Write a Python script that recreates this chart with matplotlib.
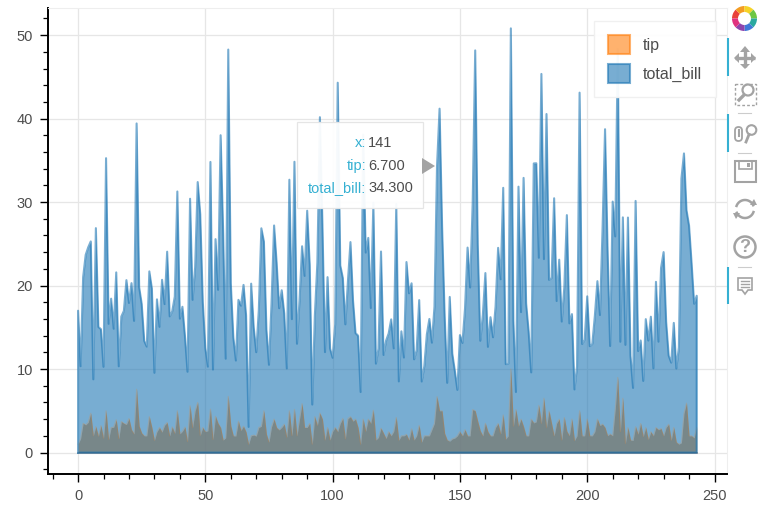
import numpy as np
import matplotlib
matplotlib.use('Agg')
import matplotlib.pyplot as plt
from matplotlib.patches import Patch, Rectangle, Circle, Wedge, Polygon, FancyBboxPatch

plt.rcParams['font.family'] = ['Liberation Sans', 'DejaVu Sans']

# data
total_bill = [16.99,10.34,21.01,23.68,24.59,25.29,8.77,26.88,15.04,14.78,10.27,35.26,15.42,18.43,14.83,21.58,10.33,16.29,16.97,20.65,
    17.92,20.29,15.77,39.42,19.82,17.81,13.37,12.69,21.70,19.65,9.55,18.35,15.06,20.69,17.78,24.06,16.31,16.93,18.69,31.27,
    16.04,17.46,13.94,9.68,30.40,18.29,22.23,32.40,28.55,18.04,12.54,10.29,34.81,9.94,25.56,19.49,38.01,26.41,11.24,48.27,
    20.29,13.81,11.02,18.29,17.59,20.08,16.45,3.07,20.23,15.01,12.02,17.07,26.86,25.28,14.73,10.51,17.92,27.20,22.76,17.29,
    19.44,16.66,10.07,32.68,15.98,34.83,13.03,18.28,24.71,21.16,28.97,22.49,5.75,16.32,22.75,40.17,27.28,12.03,21.01,12.46,
    11.35,15.38,44.30,22.42,20.92,15.36,20.49,25.21,18.24,14.31,14.00,7.25,38.07,23.95,25.71,17.31,29.93,10.65,12.43,24.08,
    11.69,13.42,14.26,15.95,12.48,29.80,8.52,14.52,11.38,22.82,19.08,20.27,11.17,12.26,18.26,8.51,10.33,14.15,16.00,13.16,
    17.47,34.30,41.19,27.05,16.43,8.35,18.64,11.87,9.78,7.51,14.07,13.13,17.26,24.55,19.77,29.85,48.17,25.00,13.39,16.49,
    21.50,12.66,16.21,13.81,17.51,24.52,20.76,31.71,10.59,10.63,50.81,15.81,7.25,31.85,16.82,32.90,17.89,14.48,9.60,34.63,
    34.65,23.33,45.35,23.17,40.55,20.69,20.90,30.46,18.15,23.10,15.69,19.81,28.44,15.48,16.58,7.56,10.34,43.11,13.00,13.51,
    18.71,12.74,13.00,16.40,20.53,16.47,26.59,38.73,24.27,12.76,30.06,25.89,48.33,13.27,28.17,12.90,28.15,11.59,7.74,30.14,
    12.16,13.42,8.58,15.98,13.42,16.27,10.09,20.45,13.28,22.12,24.01,15.69,11.61,10.77,15.53,10.07,12.60,32.83,35.83,29.03,
    27.18,22.67,17.82,18.78]
tip = [1.01,1.66,3.50,3.31,3.61,4.71,2.00,3.12,1.96,3.23,1.71,5.00,1.57,3.00,3.02,3.92,1.67,3.71,3.50,3.35,
    4.08,2.75,2.23,7.58,3.18,2.34,2.00,2.00,4.30,3.00,1.45,2.50,3.00,2.45,3.27,3.60,2.00,3.07,2.31,5.00,
    2.24,2.54,3.06,1.32,5.60,3.00,5.00,6.00,2.05,3.00,2.50,2.60,5.20,1.56,4.34,3.51,3.00,1.50,1.76,6.73,
    3.21,2.00,1.98,3.76,2.64,3.15,2.47,1.00,2.01,2.09,1.97,3.00,3.14,5.00,2.20,1.25,3.08,4.00,3.00,2.71,
    3.00,3.40,1.83,5.00,2.03,5.17,2.00,4.00,5.85,3.00,3.00,3.50,1.00,4.30,3.25,4.73,4.00,1.50,3.00,1.50,
    2.50,3.00,2.50,3.48,4.08,1.64,4.06,4.29,3.76,4.00,3.00,1.00,4.00,2.55,4.00,3.50,5.07,1.50,1.80,2.92,
    2.31,1.68,2.50,2.00,2.52,4.20,1.48,2.00,2.00,2.18,1.50,2.83,1.50,2.00,3.25,1.25,2.00,2.00,2.00,2.75,
    3.50,6.70,5.00,5.00,2.30,1.50,1.36,1.63,1.73,2.00,2.50,2.00,2.74,2.00,2.00,5.14,5.00,3.75,2.61,2.00,
    3.50,2.50,2.00,2.00,3.00,3.48,2.24,4.50,1.61,2.00,10.00,3.16,5.15,3.18,4.00,3.11,2.00,2.00,4.00,3.55,
    3.68,5.65,3.50,6.50,3.00,5.00,3.50,2.00,3.50,4.00,1.50,4.19,2.56,2.02,4.00,1.44,2.00,5.00,2.00,2.00,
    4.00,2.01,2.00,2.50,4.00,3.23,3.41,3.00,2.03,2.23,2.00,5.16,9.00,2.50,6.50,1.10,3.00,1.50,1.44,3.09,
    2.20,3.48,1.92,3.00,1.58,2.50,2.00,3.00,2.72,2.88,2.00,3.00,3.39,1.47,3.00,1.25,1.00,1.17,4.67,5.92,
    2.00,2.00,1.75,3.00]
x = np.arange(len(total_bill))

x_ticks = [0, 50, 100, 150, 200, 250]
y_ticks = [0, 10, 20, 30, 40, 50]
hover_x = 141

blue = '#1f77b4'
orange = '#ff7f0e'
grid_col = '#e6e6e6'
text_col = '#4d4d4d'
cyan = '#35b0d2'
icon = '#a3a3a3'

W, H = 781, 511
fig = plt.figure(figsize=(W / 100, H / 100), dpi=100)
ax = fig.add_axes([47.5 / W, (H - 474) / H, (727 - 47.5) / W, (474 - 8) / H])

# the two areas, tip below total_bill
ax.fill_between(x, 0, tip, color=orange, alpha=0.75, lw=0)
ax.plot(x, tip, color=orange, alpha=0.2, lw=0.8)
ax.plot([x[0], x[-1]], [0, 0], color='#2a3f55', alpha=0.6, lw=1.2)
ax.fill_between(x, 0, total_bill, color=blue, alpha=0.6, lw=0)
ax.plot(np.r_[x[0], x, x[-1], x[0]], np.r_[0, total_bill, 0, 0], color=blue, alpha=0.6, lw=1.5)

ax.set_xlim(-12, 254.9)
ax.set_ylim(-2.57, 53.25)
ax.set_xticks(x_ticks)
ax.set_yticks(y_ticks)
ax.set_xticks(np.arange(-10, 255, 10), minor=True)
ax.set_yticks(np.arange(-2, 53, 2), minor=True)
ax.grid(True, which='major', color=grid_col, lw=0.9)
ax.set_axisbelow(True)
ax.tick_params(which='major', direction='out', length=6, width=1, labelsize=10.5, labelcolor=text_col, pad=4.5)
ax.tick_params(which='minor', direction='out', length=3.8, width=0.9)
for s in ['top', 'right']:
    ax.spines[s].set_color('#eeeeee')
for s in ['left', 'bottom']:
    ax.spines[s].set_linewidth(1.4)

handles = [Patch(facecolor=orange, edgecolor=orange, alpha=0.6, lw=1.5, label='tip'),
           Patch(facecolor=blue, edgecolor=blue, alpha=0.6, lw=1.5, label='total_bill')]
leg = ax.legend(handles=handles, loc='upper left', bbox_to_anchor=((594 - 47.5) / (727 - 47.5), (474 - 21) / (474 - 8)),
                borderaxespad=0, fontsize=11.5, handlelength=1.38, handleheight=1.5, labelspacing=0.6,
                handletextpad=0.8, borderpad=0.87, fancybox=False, framealpha=0.95, edgecolor='#f0f0f0',
                labelcolor=text_col)

# overlay in pixel coordinates for tooltip and toolbar
ov = fig.add_axes([0, 0, 1, 1], zorder=10)
ov.set_xlim(0, W)
ov.set_ylim(H, 0)
ov.axis('off')

# tooltip
ov.add_patch(Rectangle((297, 122), 126, 86, facecolor='white', edgecolor='#e4e4e4', lw=0.9, alpha=0.95))
ov.add_patch(Polygon([(422, 158), (435, 166), (422, 174)], color='#a3a3a3', lw=0))
rows = [('x:', str(hover_x), 143), ('tip:', f'{tip[hover_x]:.3f}', 166), ('total_bill:', f'{total_bill[hover_x]:.3f}', 188.5)]
for lab, val, yy in rows:
    ov.text(366, yy, lab, color=cyan, ha='right', va='center', fontsize=10.5)
    ov.text(368, yy, val, color=text_col, ha='left', va='center', fontsize=10.5)

# toolbar: active bars and separators
for y0, y1 in [(38, 76), (114, 152), (267, 304)]:
    ov.plot([727.5, 727.5], [y0, y1], color=cyan, lw=1.5, solid_capstyle='butt')
for yy in [113, 153, 267]:
    ov.plot([738, 751], [yy, yy], color='#cccccc', lw=0.8)

# logo
logo_cols = ['#e8413a', '#f39c23', '#f5d327', '#6cc644', '#2aa9a0', '#3f78d8', '#8e44ad', '#e0317f']
for i, c in enumerate(logo_cols):
    ov.add_patch(Wedge((744.5, 18.5), 12.5, 180 + i * 45, 225 + i * 45, width=6, color=c, lw=0))

# move
ov.plot([745, 745], [49, 67], color=icon, lw=2.4, solid_capstyle='butt')
ov.plot([735, 755], [58, 58], color=icon, lw=2.4, solid_capstyle='butt')
for pts in [[(740, 52), (745, 46), (750, 52)], [(740, 64), (745, 69), (750, 64)],
            [(739, 53), (734, 58), (739, 63)], [(751, 53), (756, 58), (751, 63)]]:
    ov.add_patch(Polygon(pts, color=icon, lw=0))

# box zoom
ov.add_patch(Rectangle((734.5, 84), 21, 21, fill=False, edgecolor=icon, lw=1, ls=(0, (2, 1.5))))
ov.add_patch(Circle((748, 90), 5.5, facecolor='white', edgecolor=icon, lw=1.6))
ov.plot([744, 739], [95, 100], color=icon, lw=2.4)

# wheel zoom
ov.add_patch(FancyBboxPatch((735, 127), 7, 14, boxstyle='round,pad=0,rounding_size=3.5', fill=False, edgecolor=icon, lw=1.3))
ov.plot([738.5, 738.5], [130, 136], color=icon, lw=1.5)
ov.add_patch(Circle((751.5, 130), 4.8, fill=False, edgecolor=icon, lw=1.5))
ov.plot([749, 746], [134.5, 142], color=icon, lw=2)

# save
ov.add_patch(Rectangle((734.5, 161.5), 21, 21, fill=False, edgecolor=icon, lw=1.5))
ov.add_patch(Rectangle((739, 161.5), 12.5, 8, fill=False, edgecolor=icon, lw=1.2))
ov.add_patch(Rectangle((747, 163.5), 2.5, 4, color=icon, lw=0))

# reset
ov.plot(745 + 9 * np.cos(np.radians(np.arange(200, 340, 5))), 209 + 9 * np.sin(np.radians(np.arange(200, 340, 5))), color=icon, lw=1.8)
ov.plot(745 + 9 * np.cos(np.radians(np.arange(20, 160, 5))), 209 + 9 * np.sin(np.radians(np.arange(20, 160, 5))), color=icon, lw=1.8)
ov.add_patch(Polygon([(750, 205), (757, 205), (754, 199)], color=icon, lw=0))
ov.add_patch(Polygon([(733, 213), (740, 213), (736, 219)], color=icon, lw=0))

# help
ov.add_patch(Circle((745, 247), 10.5, fill=False, edgecolor=icon, lw=1.8))
ov.text(745, 247.5, '?', color=icon, ha='center', va='center', fontsize=13, fontweight='bold')

# hover
ov.add_patch(Polygon([(738, 278), (752, 278), (752, 290), (748, 290), (745, 294), (742, 290), (738, 290)],
                     facecolor='white', edgecolor=icon, lw=1.2))
for yy in [281.5, 284.5, 287.5]:
    ov.plot([741, 749], [yy, yy], color=icon, lw=1)

fig.savefig('out.png', dpi=100)
